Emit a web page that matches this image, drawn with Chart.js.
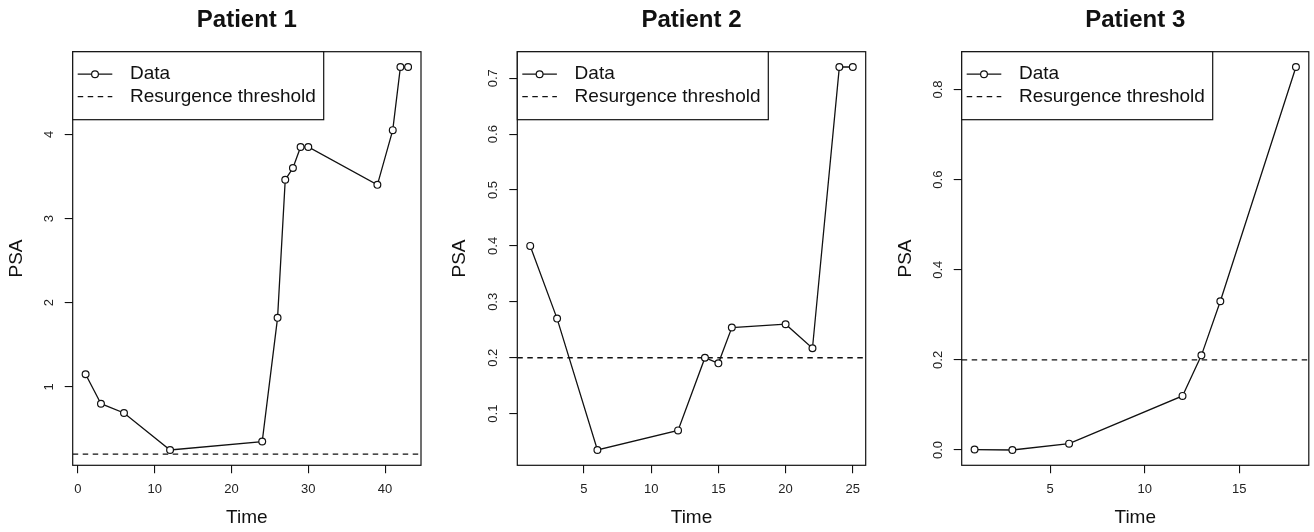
<!DOCTYPE html>
<html><head><meta charset="utf-8">
<script src="https://cdn.jsdelivr.net/npm/chart.js@4.4.1/dist/chart.umd.min.js"></script>
<style>
html,body{margin:0;padding:0;background:#fff;}
#wrap{position:relative;width:1314px;height:532px;overflow:hidden;background:#fff;}
canvas{position:absolute;top:0;}
</style></head><body>
<div id="wrap">
<canvas id="c1" width="440" height="532" style="left:0px"></canvas>
<canvas id="c2" width="440" height="532" style="left:440px"></canvas>
<canvas id="c3" width="434" height="532" style="left:880px"></canvas>
</div>
<script>
// ---- data ----
const panelTitles = ['Patient 1', 'Patient 2', 'Patient 3'];
const seriesLabels = ['Data', 'Resurgence threshold'];
const xAxisTitle = 'Time';
const yAxisTitle = 'PSA';
const threshold = 0.2;

const p1Time = [1, 3, 6, 12, 24, 26, 27, 28, 29, 30, 39, 41, 42, 43];
const p1PSA  = [1.15, 0.80, 0.69, 0.25, 0.35, 1.82, 3.46, 3.60, 3.85, 3.85, 3.40, 4.05, 4.80, 4.80];
const p2Time = [1, 3, 6, 12, 14, 15, 16, 20, 22, 24, 25];
const p2PSA  = [0.40, 0.27, 0.035, 0.070, 0.200, 0.190, 0.254, 0.260, 0.217, 0.72, 0.72];
const p3Time = [1, 3, 6, 12, 13, 14, 18];
const p3PSA  = [0.001, 0.0, 0.014, 0.12, 0.21, 0.33, 0.85];

const p1XTicks = [0, 10, 20, 30, 40];
const p1XTickLabels = ['0', '10', '20', '30', '40'];
const p1YTicks = [1, 2, 3, 4];
const p1YTickLabels = ['1', '2', '3', '4'];
const p2XTicks = [5, 10, 15, 20, 25];
const p2XTickLabels = ['5', '10', '15', '20', '25'];
const p2YTicks = [0.1, 0.2, 0.3, 0.4, 0.5, 0.6, 0.7];
const p2YTickLabels = ['0.1', '0.2', '0.3', '0.4', '0.5', '0.6', '0.7'];
const p3XTicks = [5, 10, 15];
const p3XTickLabels = ['5', '10', '15'];
const p3YTicks = [0.0, 0.2, 0.4, 0.6, 0.8];
const p3YTickLabels = ['0.0', '0.2', '0.4', '0.6', '0.8'];

// ---- layout (positions / sizes only) ----
const FONT = '"Liberation Sans", Arial, Helvetica, sans-serif';
const TICK_SIZE = 13;
const TICK_LEN = 8;
const INK = '#111';
const layouts = [
  {yAxisW: 72.7, padRight: 19.0, yTitlePad: 5.3},
  {yAxisW: 77.3, padRight: 14.3, yTitlePad: 8.6},
  {yAxisW: 81.7, padRight: 4.0,  yTitlePad: 14.1}
];
const PLOT_TOP = 51.7, PLOT_BOTTOM = 465.3, CANVAS_H = 532;

function rRange(vals) {
  const lo = Math.min(...vals), hi = Math.max(...vals), d = (hi - lo) * 0.04;
  return [lo - d, hi + d];
}
const measureCtx = document.createElement('canvas').getContext('2d');
function widest(labels) {
  measureCtx.font = TICK_SIZE + 'px ' + FONT;
  return Math.max(...labels.map(l => measureCtx.measureText(l).width));
}

const boxPlugin = {
  id: 'rBox',
  afterDatasetsDraw(chart) {
    const {ctx, chartArea: a} = chart;
    ctx.save();
    ctx.strokeStyle = INK;
    ctx.lineWidth = 1.2;
    ctx.strokeRect(a.left, a.top, a.right - a.left, a.bottom - a.top);
    ctx.restore();
  }
};

const legendPlugin = {
  id: 'rLegend',
  afterDraw(chart) {
    const {ctx, chartArea: a} = chart;
    const ds = chart.data.datasets;
    const w = 251, h = 68;
    ctx.save();
    ctx.fillStyle = '#fff';
    ctx.fillRect(a.left, a.top, w, h);
    ctx.strokeStyle = INK;
    ctx.lineWidth = 1.2;
    ctx.strokeRect(a.left, a.top, w, h);
    const x0 = a.left + 5, x1 = a.left + 39.6, xc = a.left + 22.3;
    const y1 = a.top + 22.5, y2 = a.top + 45;
    ctx.strokeStyle = ds[0].borderColor;
    ctx.lineWidth = ds[0].borderWidth;
    ctx.beginPath(); ctx.moveTo(x0, y1); ctx.lineTo(x1, y1); ctx.stroke();
    ctx.fillStyle = '#fff';
    ctx.lineWidth = ds[0].pointBorderWidth;
    ctx.beginPath(); ctx.arc(xc, y1, ds[0].pointRadius, 0, Math.PI * 2); ctx.fill(); ctx.stroke();
    ctx.strokeStyle = ds[1].borderColor;
    ctx.lineWidth = ds[1].borderWidth;
    ctx.setLineDash(ds[1].borderDash);
    ctx.beginPath(); ctx.moveTo(x0, y2); ctx.lineTo(x1, y2); ctx.stroke();
    ctx.setLineDash([]);
    ctx.fillStyle = INK;
    ctx.font = '19px ' + FONT;
    ctx.textBaseline = 'middle';
    ctx.textAlign = 'left';
    ctx.fillText(ds[0].label, a.left + 57.3, y1);
    ctx.fillText(ds[1].label, a.left + 57.3, y2);
    ctx.restore();
  }
};

function makeChart(id, idx, times, psa, xTicks, xLabels, yTicks, yLabels) {
  const L = layouts[idx];
  const xr = rRange(times);
  const yr = rRange(psa);
  const yTickPad = 23.5 - TICK_LEN - widest(yLabels) / 2;
  const points = times.map((t, i) => ({x: t, y: psa[i]}));
  const thr = [{x: xr[0], y: threshold}, {x: xr[1], y: threshold}];
  return new Chart(document.getElementById(id), {
    type: 'line',
    data: {
      datasets: [
        {label: seriesLabels[0], data: points, borderColor: INK, borderWidth: 1.3,
         pointRadius: 3.4, pointBorderWidth: 1.2, pointBackgroundColor: '#fff', pointBorderColor: INK,
         tension: 0, fill: false},
        {label: seriesLabels[1], data: thr, borderColor: INK, borderWidth: 1.3,
         borderDash: [5.5, 4.5], pointRadius: 0, tension: 0, fill: false}
      ]
    },
    options: {
      responsive: false,
      animation: false,
      events: [],
      layout: {padding: {left: 0, top: 0, right: L.padRight, bottom: 0}},
      plugins: {
        legend: {display: false},
        tooltip: {enabled: false},
        title: {display: true, text: panelTitles[idx], fullSize: false, color: INK,
          font: {family: FONT, size: 24, weight: 'bold', lineHeight: 1.2},
          padding: {top: 5.9, bottom: PLOT_TOP - 28.8 - 5.9}}
      },
      scales: {
        x: {
          type: 'linear', min: xr[0], max: xr[1],
          afterBuildTicks: s => { s.ticks = xTicks.map(v => ({value: v})); },
          afterFit: s => { s.height = CANVAS_H - PLOT_BOTTOM; },
          ticks: {callback: (v, i) => xLabels[i], color: '#222', padding: 8.3,
            font: {family: FONT, size: TICK_SIZE}, maxRotation: 0, minRotation: 0, autoSkip: false},
          grid: {display: true, drawOnChartArea: false, drawTicks: true, tickLength: TICK_LEN,
            color: INK, lineWidth: 1.1},
          border: {display: false},
          title: {display: true, text: xAxisTitle, color: INK,
            font: {family: FONT, size: 19, lineHeight: 1.2}, padding: {top: 0, bottom: 2.6}}
        },
        y: {
          type: 'linear', min: yr[0], max: yr[1],
          afterBuildTicks: s => { s.ticks = yTicks.map(v => ({value: v})); },
          afterFit: s => { s.width = L.yAxisW; },
          ticks: {callback: (v, i) => yLabels[i], color: '#222', padding: yTickPad,
            font: {family: FONT, size: TICK_SIZE}, minRotation: 90, maxRotation: 90,
            crossAlign: 'center', autoSkip: false},
          grid: {display: true, drawOnChartArea: false, drawTicks: true, tickLength: TICK_LEN,
            color: INK, lineWidth: 1.1},
          border: {display: false},
          title: {display: true, text: yAxisTitle, color: INK,
            font: {family: FONT, size: 19, lineHeight: 1.2}, padding: {top: L.yTitlePad, bottom: 0}}
        }
      }
    },
    plugins: [boxPlugin, legendPlugin]
  });
}

makeChart('c1', 0, p1Time, p1PSA, p1XTicks, p1XTickLabels, p1YTicks, p1YTickLabels);
makeChart('c2', 1, p2Time, p2PSA, p2XTicks, p2XTickLabels, p2YTicks, p2YTickLabels);
makeChart('c3', 2, p3Time, p3PSA, p3XTicks, p3XTickLabels, p3YTicks, p3YTickLabels);
</script>
</body></html>
